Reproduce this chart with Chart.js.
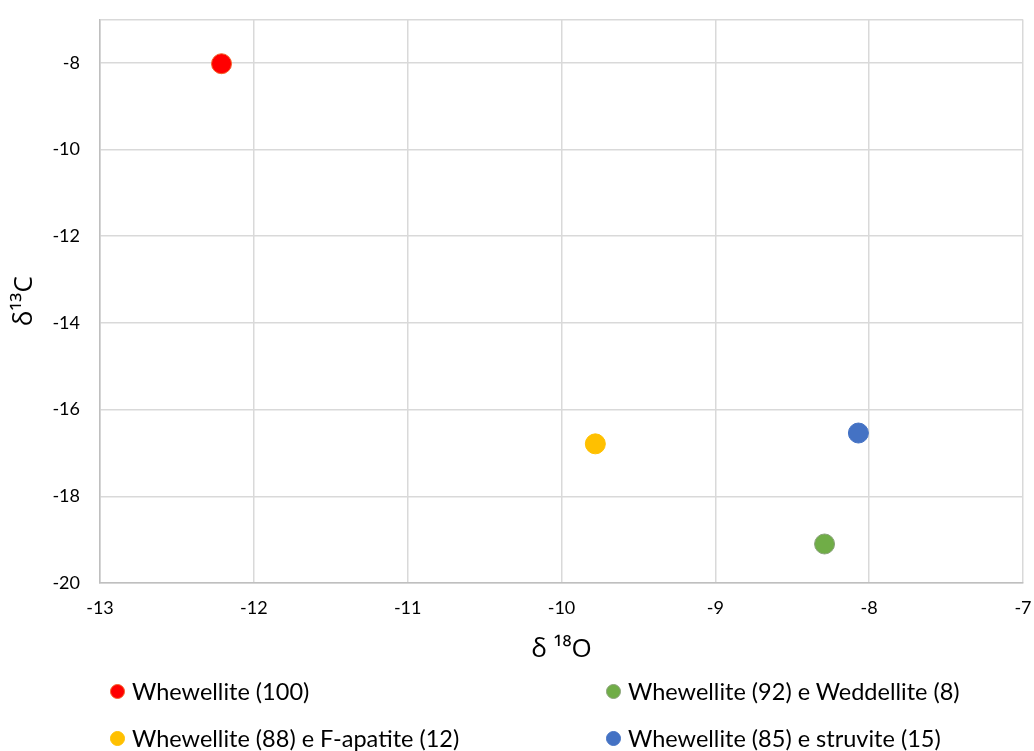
<!DOCTYPE html>
<html>
<head>
<meta charset="utf-8">
<script src="https://cdn.jsdelivr.net/npm/chart.js@4/dist/chart.umd.min.js"></script>
<style>
  html, body { margin: 0; padding: 0; background: #fff; }
  #wrap { position: relative; width: 1034px; height: 751px; }
  #c { position: absolute; left: 0; top: 0; }
  #legend { position: absolute; left: 0; top: 0; width: 1034px; height: 751px; pointer-events: none;
            font-family: Lato, "Open Sans", sans-serif; font-size: 23.5px; color: #000; }
  .li { position: absolute; display: flex; align-items: center; white-space: nowrap; }
  .dot { width: 15px; height: 15px; border-radius: 50%; margin-right: 7px; box-sizing: border-box; }
</style>
</head>
<body>
<div id="wrap">
  <canvas id="c" width="1034" height="751"></canvas>
  <div id="legend"></div>
</div>
<script>
// Data
const seriesNames = [
  'Whewellite (100)',
  'Whewellite (92) e Weddellite (8)',
  'Whewellite (88) e F-apatite (12)',
  'Whewellite (85) e struvite (15)'
];
const seriesColors = ['#FF0000', '#70AD47', '#FFC000', '#4472C4'];
const seriesBorders = ['#F4622A', '#8AA27A', '#FFC000', '#4472C4'];
const d18O = [-12.21, -8.29, -9.78, -8.07];
const d13C = [-8.02, -19.10, -16.79, -16.54];
const xTicks = [-13, -12, -11, -10, -9, -8, -7];
const yTicks = [-20, -18, -16, -14, -12, -10, -8, -7];
const xTitle = 'δ ¹⁸O';
const yTitle = 'δ¹³C';

const FONT = 'Lato, "Open Sans", sans-serif';
const TFONT = '"Open Sans", Lato, sans-serif';

const datasets = seriesNames.map((name, i) => ({
  label: name,
  data: [{ x: d18O[i], y: d13C[i] }],
  backgroundColor: seriesColors[i],
  borderColor: seriesBorders[i],
  borderWidth: 1,
  pointRadius: 10,
  pointHoverRadius: 10
}));

const htmlLegend = {
  id: 'htmlLegend',
  afterUpdate(chart) {
    const box = document.getElementById('legend');
    box.innerHTML = '';
    const cols = [110, 606];
    const rows = [691, 738];
    chart.data.datasets.forEach((ds, i) => {
      const el = document.createElement('div');
      el.className = 'li';
      el.style.left = cols[i % 2] + 'px';
      el.style.top = (rows[Math.floor(i / 2)] - 15) + 'px';
      el.style.height = '30px';
      const dot = document.createElement('span');
      dot.className = 'dot';
      dot.style.background = ds.backgroundColor;
      dot.style.border = '1px solid ' + ds.borderColor;
      const t = document.createElement('span');
      t.textContent = ds.label;
      el.appendChild(dot);
      el.appendChild(t);
      box.appendChild(el);
    });
  }
};

new Chart(document.getElementById('c'), {
  type: 'scatter',
  data: { datasets },
  options: {
    responsive: false,
    animation: false,
    layout: { autoPadding: false, padding: { top: 19.5, right: 11, bottom: 78, left: 0 } },
    plugins: { legend: { display: false }, tooltip: { enabled: false } },
    scales: {
      x: {
        type: 'linear',
        min: -13, max: -7,
        afterBuildTicks: (s) => { s.ticks = xTicks.map(v => ({ value: v })); },
        afterFit: (s) => { s.height = 90; s.paddingLeft = 0; s.paddingRight = 0; },
        grid: { color: '#D9D9D9', lineWidth: 1.5, drawTicks: false },
        border: { display: true, color: '#BFBFBF', width: 1.5 },
        ticks: { color: '#000', font: { family: FONT, size: 18 }, padding: 14, maxRotation: 0 },
        title: { display: true, text: xTitle, color: '#000', font: { family: TFONT, size: 26 }, padding: { top: 0, bottom: 8 } }
      },
      y: {
        type: 'linear',
        min: -20, max: -7,
        afterBuildTicks: (s) => { s.ticks = yTicks.map(v => ({ value: v })); },
        afterFit: (s) => { s.width = 100; s.paddingTop = 0; s.paddingBottom = 0; },
        grid: { color: '#D9D9D9', lineWidth: 1.5, drawTicks: false },
        border: { display: true, color: '#BFBFBF', width: 1.5 },
        ticks: {
          color: '#000', font: { family: FONT, size: 18 }, padding: 20,
          callback: (v) => (v === -7 ? '' : String(v))
        },
        title: { display: true, text: yTitle, color: '#000', font: { family: TFONT, size: 26 }, padding: { top: 9, bottom: 0 } }
      }
    }
  },
  plugins: [htmlLegend]
});
</script>
</body>
</html>
